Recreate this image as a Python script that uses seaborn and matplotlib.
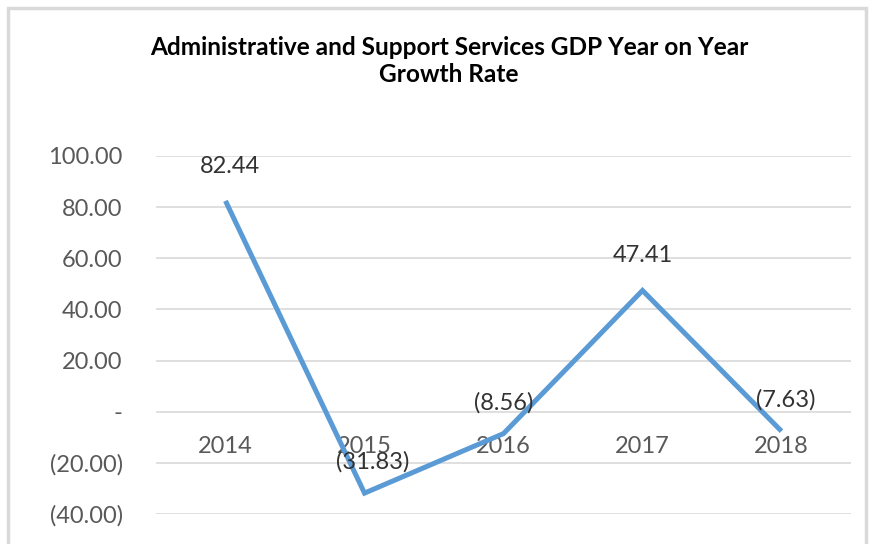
import matplotlib
matplotlib.use("Agg")
import matplotlib.pyplot as plt
from matplotlib.patches import Rectangle
import seaborn as sns
import pandas as pd

years = ["2014", "2015", "2016", "2017", "2018"]
growth = [82.44, -31.83, -8.56, 47.41, -7.63]
y_ticks = [100, 80, 60, 40, 20, 0, -20, -40]

title = "Administrative and Support Services GDP Year on Year\nGrowth Rate"


def acct(v):
    if v == 0:
        return "-"
    if v < 0:
        return f"({abs(v):.2f})"
    return f"{v:.2f}"


sns.set_style("white")
plt.rcParams["font.family"] = ["Lato", "DejaVu Sans"]

df = pd.DataFrame({"year": years, "growth": growth})
df["pos"] = range(len(years))

fig = plt.figure(figsize=(8.73, 5.44), dpi=100)
ax = fig.add_axes([156 / 873, 1 - 514 / 544, 695 / 873, (514 - 156) / 544])

sns.lineplot(data=df, x="pos", y="growth", ax=ax, color="#5b9bd5",
             linewidth=3.6, solid_capstyle="butt", solid_joinstyle="miter",
             zorder=3)

ax.set_xlim(-0.5, len(years) - 0.5)
ax.set_ylim(-40, 100)
ax.set_yticks(y_ticks)
ax.set_yticklabels([acct(v) for v in y_ticks])
ax.yaxis.grid(True, color="#d9d9d9", linewidth=1.2)
ax.set_axisbelow(True)
for s in ax.spines.values():
    s.set_visible(False)
ax.tick_params(axis="y", length=0, pad=24, labelsize=17, labelcolor="#595959")
ax.set_xticks([])
ax.set_xlabel("")
ax.set_ylabel("")

# category labels sit just under the zero line
for i, yr in enumerate(years):
    ax.annotate(yr, (i, 0), xytext=(0, -25), textcoords="offset points",
                ha="center", va="center", fontsize=17, color="#595959",
                zorder=2)

# value labels above each point
for i, v in enumerate(growth):
    off = 25 if v > 0 else 22.5
    dx = 3 if i == 0 else (6 if i == 1 else (3 if i == 4 else 0))
    ax.annotate(acct(v), (i, v), xytext=(dx, off), textcoords="offset points",
                ha="center", va="center", fontsize=17, color="#333333",
                zorder=4)

fig.text(449 / 873, 1 - 61 / 544, title, ha="center", va="center",
         fontsize=17.6, fontweight="bold", color="#000000",
         linespacing=1.2)

fig.patches.append(Rectangle((8 / 873, -0.05), (866 - 8) / 873, 1.05 - 8 / 544,
                             transform=fig.transFigure, fill=False,
                             edgecolor="#d9d9d9", linewidth=2.5))

fig.savefig("out.png", dpi=100)
